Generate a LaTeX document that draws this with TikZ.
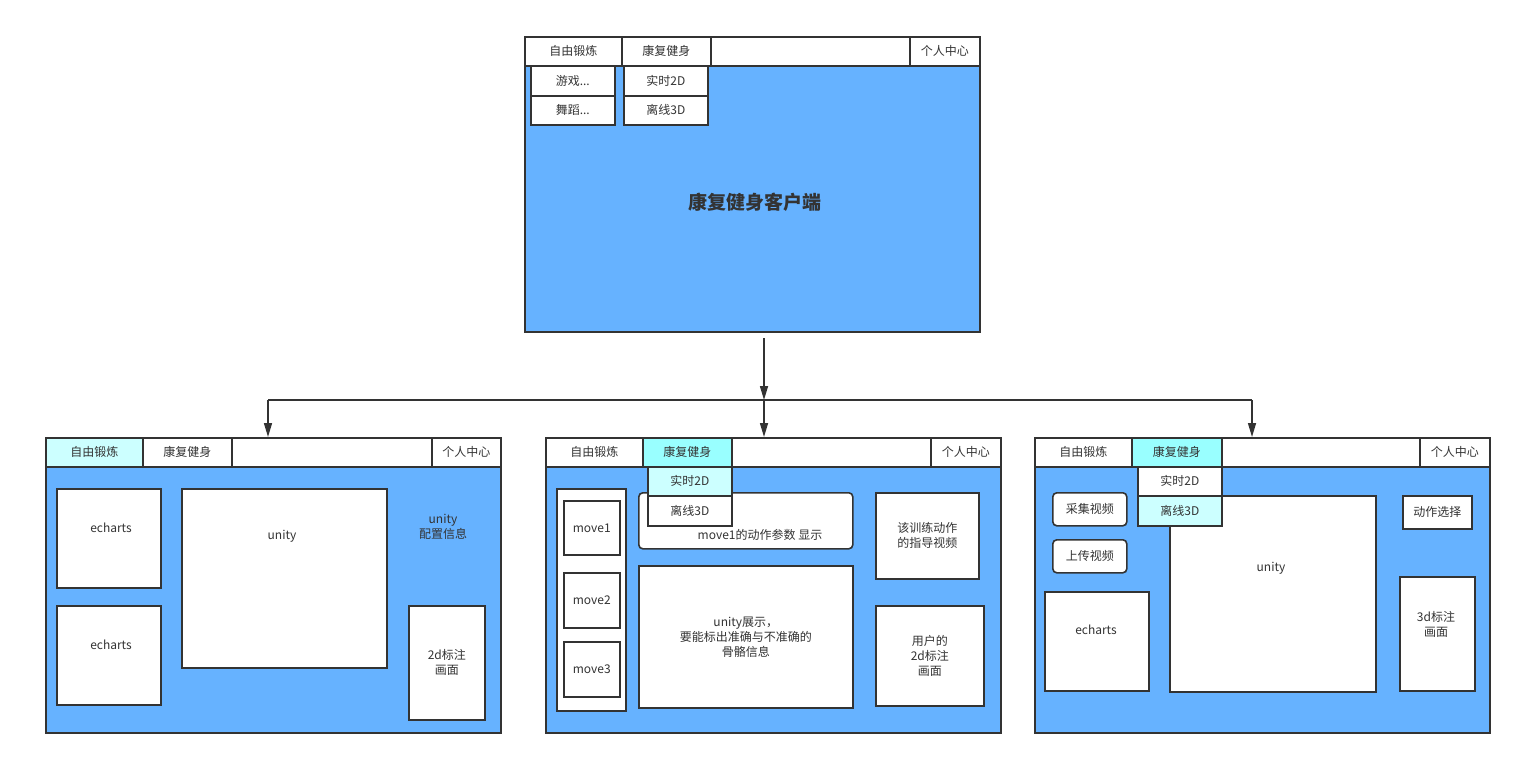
\documentclass[tikz,border=0pt]{standalone}
\usepackage{fontspec}
\setmainfont{Noto Sans CJK SC}
\usetikzlibrary{arrows.meta}
\definecolor{winblue}{HTML}{66B2FF}
\definecolor{darkline}{HTML}{333333}
\definecolor{selcyan}{HTML}{99FFFF}
\definecolor{pickcyan}{HTML}{CCFFFF}
\tikzset{
  win/.style={draw=darkline, line width=2pt, fill=winblue, anchor=north west, inner sep=0pt},
  tab/.style={draw=darkline, line width=1.6pt, fill=white, anchor=north west, inner sep=0pt, minimum height=29, text=darkline, font=\fontsize{12}{15}\selectfont},
  drop/.style={tab, minimum width=84},
  pane/.style={draw=darkline, line width=1.6pt, fill=white, anchor=north west, inner sep=0pt, align=center, text=darkline, font=\fontsize{12}{15}\selectfont},
  btn/.style={pane, rounded corners=4pt},
  txt/.style={align=center, text=darkline, font=\fontsize{12}{15}\selectfont},
}
\begin{document}
\begin{tikzpicture}[x=1pt, y=-1pt, >={Triangle[length=14pt,width=8pt]}]
\useasboundingbox (0,0) rectangle (1525,768);

\node[win, minimum width=455, minimum height=295] (top) at (524,36) {};
\node[txt, font=\fontsize{19}{22}\selectfont\bfseries] (title) at (755,202) {康复健身客户端};
\node[tab, minimum width=97] (top-t1) at (524,36) {自由锻炼};
\node[tab, minimum width=89] (top-t2) at (621,36) {康复健身};
\node[tab, minimum width=199] (top-t3) at (710,36) {};
\node[tab, minimum width=70] (top-t4) at (909,36) {个人中心};
\node[drop, minimum height=30] (top-game) at (530,65) {游戏...};
\node[drop] (top-dance) at (530,95) {舞蹈...};
\node[drop, minimum height=30] (top-rt) at (623,65) {实时2D};
\node[drop] (top-off) at (623,95) {离线3D};

\node[win, minimum width=455, minimum height=295] (left) at (45,437) {};
\node[pane, minimum width=104, minimum height=99] (left-echA) at (56,488) {};
\node[txt] (left-echA-t) at (111,528) {echarts};
\node[pane, minimum width=104, minimum height=99] (left-echB) at (56,605) {};
\node[txt] (left-echB-t) at (111,645) {echarts};
\node[pane, minimum width=205, minimum height=179] (left-unity) at (181,488) {};
\node[txt] (left-unity-t) at (282,536) {unity};
\node[txt] (left-cfg) at (443,527) {unity\\配置信息};
\node[pane, minimum width=76, minimum height=114] (left-mark) at (408,605) {2d标注\\画面};
\node[tab, minimum width=97, fill=pickcyan] (left-t1) at (45,437) {自由锻炼};
\node[tab, minimum width=89] (left-t2) at (142,437) {康复健身};
\node[tab, minimum width=200] (left-t3) at (231,437) {};
\node[tab, minimum width=69] (left-t4) at (431,437) {个人中心};

\node[win, minimum width=455, minimum height=295] (mid) at (545,437) {};
\node[pane, minimum width=69, minimum height=222] (mid-list) at (556,488) {};
\node[pane, minimum width=56, minimum height=54] (mid-m1) at (563,500) {move1};
\node[pane, minimum width=56, minimum height=55] (mid-m2) at (563,572) {move2};
\node[pane, minimum width=56, minimum height=55] (mid-m3) at (563,641) {move3};
\node[btn, minimum width=214, minimum height=56] (mid-param) at (638,492) {};
\node[txt] (mid-param-t) at (760,535) {move1的动作参数 显示};
\node[pane, minimum width=214, minimum height=142] (mid-show) at (638,565) {unity展示，\\要能标出准确与不准确的\\骨骼信息};
\node[pane, minimum width=103, minimum height=86] (mid-guide) at (875,492) {该训练动作\\的指导视频};
\node[pane, minimum width=108, minimum height=100] (mid-user) at (875,605) {用户的\\2d标注\\画面};
\node[tab, minimum width=97] (mid-t1) at (545,437) {自由锻炼};
\node[tab, minimum width=89, fill=selcyan] (mid-t2) at (642,437) {康复健身};
\node[tab, minimum width=199] (mid-t3) at (731,437) {};
\node[tab, minimum width=70] (mid-t4) at (930,437) {个人中心};
\node[drop, fill=pickcyan] (mid-rt) at (647,466) {实时2D};
\node[drop, minimum height=30] (mid-off) at (647,495) {离线3D};

\node[win, minimum width=455, minimum height=295] (right) at (1034,437) {};
\node[btn, minimum width=74, minimum height=33] (right-cap) at (1052,492) {采集视频};
\node[btn, minimum width=74, minimum height=33] (right-up) at (1052,539) {上传视频};
\node[pane, minimum width=104, minimum height=99] (right-ech) at (1044,591) {};
\node[txt] (right-ech-t) at (1096,630) {echarts};
\node[pane, minimum width=206, minimum height=196] (right-unity) at (1169,495) {};
\node[txt] (right-unity-t) at (1271,568) {unity};
\node[pane, minimum width=69, minimum height=33] (right-pick) at (1402,495) {动作选择};
\node[pane, minimum width=75, minimum height=114] (right-mark) at (1399,576) {};
\node[txt] (right-mark-t) at (1436,624) {3d标注\\画面};
\node[tab, minimum width=97] (right-t1) at (1034,437) {自由锻炼};
\node[tab, minimum width=90, fill=selcyan] (right-t2) at (1131,437) {康复健身};
\node[tab, minimum width=198] (right-t3) at (1221,437) {};
\node[tab, minimum width=70] (right-t4) at (1419,437) {个人中心};
\node[drop] (right-rt) at (1137,466) {实时2D};
\node[drop, minimum height=30, fill=pickcyan] (right-off) at (1137,495) {离线3D};

\coordinate (trunk) at (764,338);
\coordinate (split) at (764,400);
\coordinate (jl) at (268,400);
\coordinate (jr) at (1252,400);
\draw[->, darkline, line width=1.5pt] (trunk) -- (split);
\draw[darkline, line width=1.5pt] (jl) -- (jr);
\draw[->, darkline, line width=1.5pt] (jl) -- (jl |- left.north);
\draw[->, darkline, line width=1.5pt] (split) -- (split |- mid.north);
\draw[->, darkline, line width=1.5pt] (jr) -- (jr |- right.north);
\end{tikzpicture}
\end{document}
